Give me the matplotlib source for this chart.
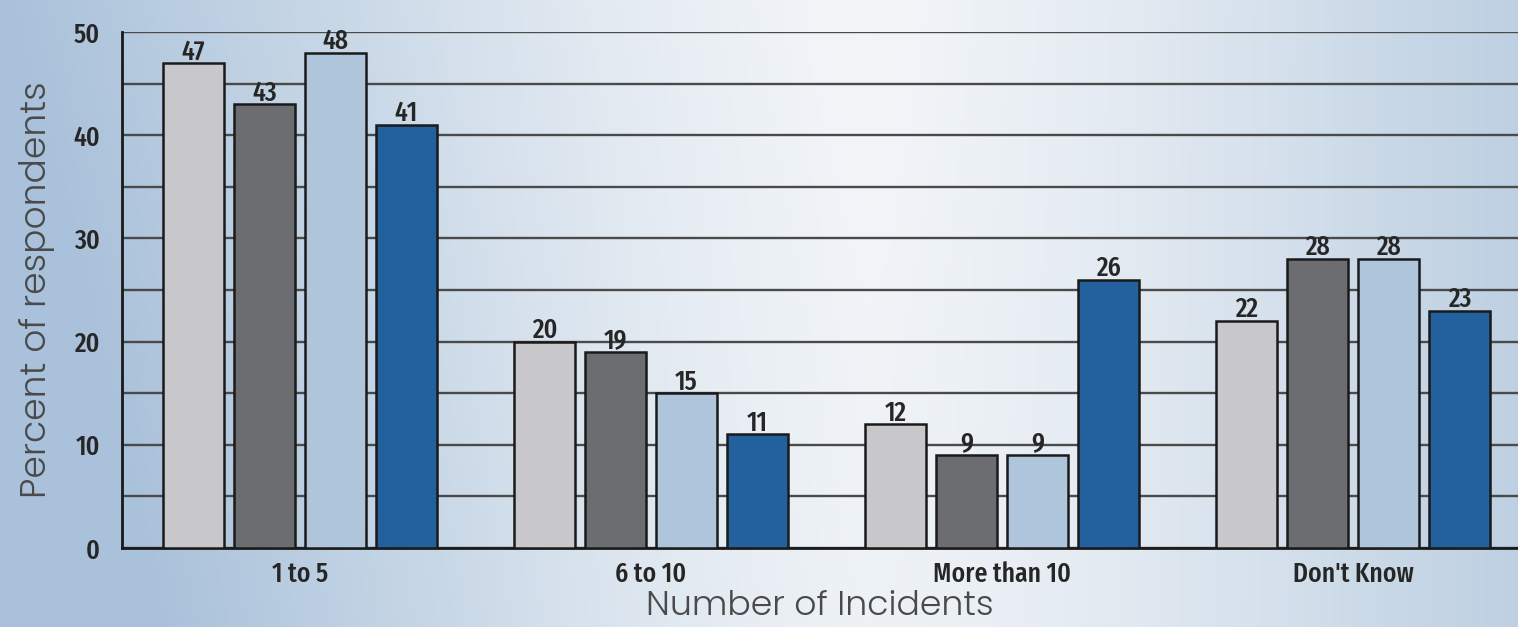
import numpy as np
import matplotlib.pyplot as plt
from matplotlib.colors import LinearSegmentedColormap

categories = ["1 to 5", "6 to 10", "More than 10", "Don't Know"]
series_a = [47, 20, 12, 22]
series_b = [43, 19, 9, 28]
series_c = [48, 15, 9, 28]
series_d = [41, 11, 26, 23]
yticks = [0, 10, 20, 30, 40, 50]

colors = ["#c8c8ca", "#6c6d71", "#afc5db", "#22619d"]

fig = plt.figure(figsize=(15.18, 6.27), dpi=100)

# background: blue at the edges, near white in the middle
bg = fig.add_axes([0, 0, 1, 1], zorder=-1)
xs = np.linspace(0, 1, 400)
ys = np.linspace(0, 1, 200)
X, Y = np.meshgrid(xs, ys)
shade = np.clip(np.abs(X - 0.57) / 0.57, 0, 1) ** 1.4
shade = np.clip(shade + 0.3 * (1 - Y) * (1 - X) ** 2, 0, 1)
cmap = LinearSegmentedColormap.from_list("bg", ["#f2f5f8", "#c9d8e7", "#a9c1da"])
bg.imshow(shade, cmap=cmap, aspect="auto", origin="lower", extent=[0, 1, 0, 1], vmin=0, vmax=1)
bg.axis("off")

ax = fig.add_axes([122 / 1518, 79 / 627, 1 - 122 / 1518, 516 / 627])
ax.patch.set_alpha(0)

x = np.arange(len(categories))
slot = 0.2023
width = 0.174
num_font = dict(family=["Fira Sans Extra Condensed", "DejaVu Sans"], fontweight=500, color="#262626")
label_font = dict(family=["Poppins", "DejaVu Sans"], fontweight=300, color="#4a4a4a")

for i, (vals, c) in enumerate(zip([series_a, series_b, series_c, series_d], colors)):
    pos = x + (i - 1.5) * slot
    bars = ax.bar(pos, vals, width, color=c, edgecolor="#1a1a1a", linewidth=1.8, zorder=3)
    for b, v in zip(bars, vals):
        ax.text(b.get_x() + b.get_width() / 2, v + 0.35, str(v), ha="center", va="baseline",
                fontsize=20, zorder=4, **num_font)

ax.set_xlim(-0.507, 3.47)
ax.set_ylim(0, 50)
ax.set_yticks(yticks)
ax.set_yticks(range(5, 50, 10), minor=True)
ax.set_yticklabels([str(t) for t in yticks], fontsize=20, **num_font)
ax.set_xticks(x)
ax.set_xticklabels(categories, fontsize=20, **num_font)
ax.tick_params(axis="both", which="both", length=0)
ax.tick_params(axis="y", pad=16)
ax.tick_params(axis="x", pad=9)
ax.grid(axis="y", which="both", color="#4a4a4a", linewidth=1.7, zorder=1)
ax.set_axisbelow(True)

for side in ["top", "right"]:
    ax.spines[side].set_visible(False)
for side in ["left", "bottom"]:
    ax.spines[side].set_color("#1a1a1a")
    ax.spines[side].set_linewidth(2)

ax.set_ylabel("Percent of respondents", fontsize=26, labelpad=13, **label_font)
ax.set_xlabel("Number of Incidents", fontsize=25, labelpad=2, **label_font)

fig.savefig("out.png", dpi=100)
